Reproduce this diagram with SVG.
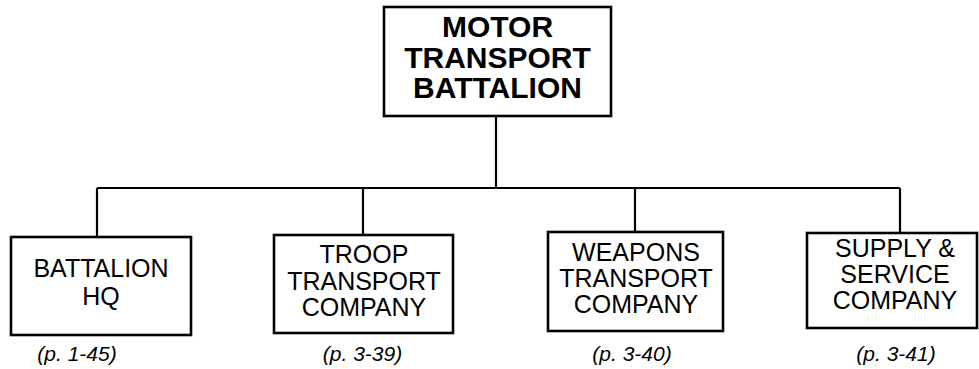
<svg xmlns="http://www.w3.org/2000/svg" width="979" height="369" viewBox="0 0 979 369">
<style>
.box{fill:#fff;stroke:#000;stroke-width:2.6}
.conn{fill:none;stroke:#000;stroke-width:2.2}
.t{font-family:"Liberation Sans",Arial,sans-serif;font-size:25px;fill:#000;text-anchor:middle}
.tb{font-family:"Liberation Sans",Arial,sans-serif;font-size:30px;font-weight:bold;fill:#000;text-anchor:middle}
.ref{font-family:"Liberation Sans",Arial,sans-serif;font-size:21px;font-style:italic;fill:#000;text-anchor:middle}
</style>
<rect width="979" height="369" fill="#fff"/>
<g id="connectors">
<path class="conn" d="M496,116 V188 M97,188 H900 M97,188 V237 M363,188 V235 M635,188 V232 M900,188 V233"/>
</g>
<g id="motor-transport-battalion">
<rect class="box" x="384" y="7" width="227" height="109"/>
<text class="tb" x="497.5" y="37">MOTOR</text>
<text class="tb" x="497.5" y="67.5">TRANSPORT</text>
<text class="tb" x="497.5" y="98">BATTALION</text>
</g>
<g id="battalion-hq">
<rect class="box" x="11" y="237" width="180" height="98"/>
<text class="t" x="101" y="277">BATTALION</text>
<text class="t" x="101" y="305">HQ</text>
<text class="ref" x="77" y="361">(p. 1-45)</text>
</g>
<g id="troop-transport-company">
<rect class="box" x="274" y="235" width="179" height="98"/>
<text class="t" x="364" y="263">TROOP</text>
<text class="t" x="364" y="289.5">TRANSPORT</text>
<text class="t" x="364" y="316">COMPANY</text>
<text class="ref" x="362.5" y="361">(p. 3-39)</text>
</g>
<g id="weapons-transport-company">
<rect class="box" x="548" y="232" width="175" height="99"/>
<text class="t" x="636" y="261">WEAPONS</text>
<text class="t" x="636" y="287">TRANSPORT</text>
<text class="t" x="636" y="313">COMPANY</text>
<text class="ref" x="632" y="361">(p. 3-40)</text>
</g>
<g id="supply-service-company">
<rect class="box" x="807" y="233" width="170" height="95"/>
<text class="t" x="895" y="257">SUPPLY &amp;</text>
<text class="t" x="895" y="283">SERVICE</text>
<text class="t" x="895" y="309">COMPANY</text>
<text class="ref" x="896" y="361">(p. 3-41)</text>
</g>
</svg>
